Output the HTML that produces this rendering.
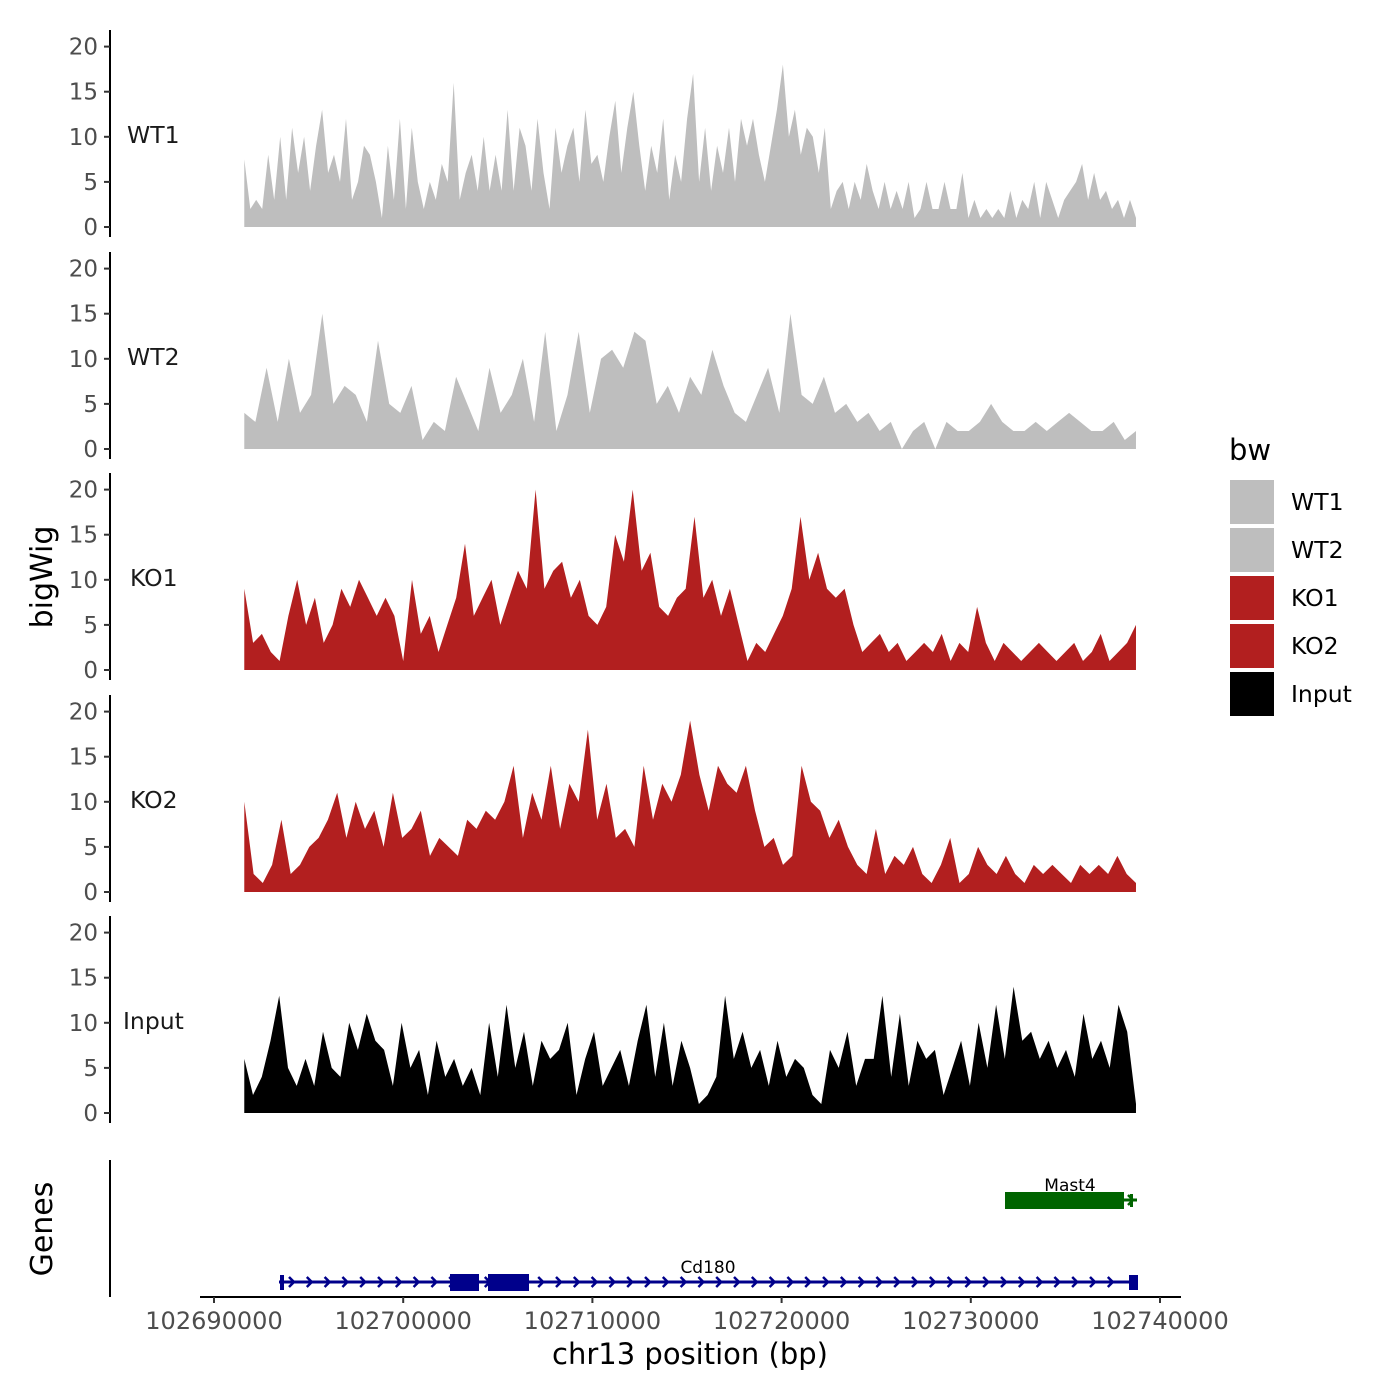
<!DOCTYPE html>
<html><head><meta charset="utf-8"><style>
body{margin:0;background:#fff}
svg{display:block;font-family:"DejaVu Sans","Liberation Sans",sans-serif}
</style></head><body>
<svg id="chart" width="1400" height="1400" viewBox="0 0 1400 1400"></svg>
<script>
const trackNames = ["WT1","WT2","KO1","KO2","Input"];
const trackColors = ["#bebebe","#bebebe","#b21f1f","#b21f1f","#000000"];
const yTicks = [0,5,10,15,20];
const xTicks = [102690000,102700000,102710000,102720000,102730000,102740000];
const xStart = 102691600, xEnd = 102738730;
const wt1 = [7.5,2,3,2,8,3,10,3,11,6,10,4,9,13,6,8,5,12,3,5,9,8,5,1,9,3,12,2,11,5,2,5,3,7,5,16,3,6,8,4,10,4,8,4,13,4,11,9,4,12,6,2,11,6,9,11,5,13,7,8,5,10,14,6,11,15,9,4,9,6,12,3,8,5,12,17,5,11,4,9,6,11,5,12,9,12,8,5,9,13,18,10,13,8,11,10,6,11,2,4,5,2,5,3,7,4,2,5,2,4,2,5,1,2,5,2,2,5,2,2,6,1,3,1,2,1,2,1,4,1,3,2,5,1,5,3,1,3,4,5,7,3,6,3,4,2,3,1,3,1];
const wt2 = [4,3,9,3,10,4,6,15,5,7,6,3,12,5,4,7,1,3,2,8,5,2,9,4,6,10,3,13,2,6,13,4,10,11,9,13,12,5,7,4,8,6,11,7,4,3,6,9,4,15,6,5,8,4,5,3,4,2,3,0,2,3,0,3,2,2,3,5,3,2,2,3,2,3,4,3,2,2,3,1,2];
const ko1 = [9,3,4,2,1,6,10,5,8,3,5,9,7,10,8,6,8,6,1,10,4,6,2,5,8,14,6,8,10,5,8,11,9,20,9,11,12,8,10,6,5,7,15,12,20,11,13,7,6,8,9,17,8,10,6,9,5,1,3,2,4,6,9,17,10,13,9,8,9,5,2,3,4,2,3,1,2,3,2,4,1,3,2,7,3,1,3,2,1,2,3,2,1,2,3,1,2,4,1,2,3,5];
const ko2 = [10,2,1,3,8,2,3,5,6,8,11,6,10,7,9,5,11,6,7,9,4,6,5,4,8,7,9,8,10,14,6,11,8,14,7,12,10,18,8,12,6,7,5,14,8,12,10,13,19,13,9,14,12,11,14,9,5,6,3,4,14,10,9,6,8,5,3,2,7,2,4,3,5,2,1,3,6,1,2,5,3,2,4,2,1,3,2,3,2,1,3,2,3,2,4,2,1];
const inputVals = [6,2,4,8,13,5,3,6,3,9,5,4,10,7,11,8,7,3,10,5,7,2,8,4,6,3,5,2,10,4,12,5,9,3,8,6,7,10,2,6,9,3,5,7,3,8,12,4,10,3,8,5,1,2,4,13,6,9,5,7,3,8,4,6,5,2,1,7,5,9,3,6,6,13,4,11,3,8,6,7,2,5,8,3,10,5,12,6,14,8,9,6,8,5,7,4,11,6,8,5,12,9,1];
const series = [wt1,wt2,ko1,ko2,inputVals];

const NS="http://www.w3.org/2000/svg";
const svg=document.getElementById('chart');
function el(tag,attrs,parent){const e=document.createElementNS(NS,tag);for(const k in attrs)e.setAttribute(k,attrs[k]);(parent||svg).appendChild(e);return e;}
const xScale=v=>214+(v-102690000)/50000*946;
const baselines=[227,449,670,892,1113];
const yPx=9.02;

series.forEach((vals,i)=>{
  const b=baselines[i];
  const g=el('g',{});
  
  
  const n=vals.length;
  let pts=[];
  pts.push(xScale(xStart)+','+b);
  vals.forEach((v,j)=>{const x=xScale(xStart+(xEnd-xStart)*j/(n-1));pts.push(x.toFixed(1)+','+(b-v*yPx).toFixed(1));});
  pts.push(xScale(xEnd)+','+b);
  const p=el('polygon',{points:pts.join(' '),fill:trackColors[i]},g);
  
  
  const ax=el('line',{x1:110,x2:110,y1:b-197,y2:b+10,stroke:'#000','stroke-width':2},g);
  
  
  yTicks.forEach(t=>{
    const y=b-t*yPx;
    el('line',{x1:104,x2:110,y1:y,y2:y,stroke:'#333','stroke-width':2},g);
    const tx=el('text',{x:98,y:y+8,'text-anchor':'end','font-size':23,fill:'#4d4d4d'},g);
    tx.textContent=t;
    
    
  });
  const lb=el('text',{x:i==4?123:(i>=2?130:127),y:b-84,'font-size':23.5,fill:'#1a1a1a'},g);
  lb.textContent=trackNames[i];
  
  
});

let t=el('text',{x:0,y:0,'font-size':30,'text-anchor':'middle',transform:'translate(52,577) rotate(-90)'});
t.textContent='bigWig';


t=el('text',{x:0,y:0,'font-size':30,'text-anchor':'middle',transform:'translate(52,1229) rotate(-90)'});
t.textContent='Genes';



el('line',{x1:110,x2:110,y1:1160,y2:1297,stroke:'#000','stroke-width':2});
el('line',{x1:200,x2:1181,y1:1297,y2:1297,stroke:'#000','stroke-width':2});
xTicks.forEach(v=>{
  const x=xScale(v);
  el('line',{x1:x,x2:x,y1:1297,y2:1303,stroke:'#333','stroke-width':2});
  const tx=el('text',{x:x,y:1329,'text-anchor':'middle','font-size':24,fill:'#4d4d4d'});
  tx.textContent=v;
  
  
});
t=el('text',{x:690,y:1364,'font-size':29,'text-anchor':'middle'});
t.textContent='chr13 position (bp)';



const cd=el('g',{});


el('line',{x1:279,x2:1134,y1:1282,y2:1282,stroke:'#00008b','stroke-width':3},cd);
for(let x=292;x<1125;x+=17.8){el('polyline',{points:`${x-3},${1277} ${x+2},${1282} ${x-3},${1287}`,fill:'none',stroke:'#00008b','stroke-width':2.5},cd);}
el('rect',{x:280,y:1275,width:4,height:15,fill:'#00008b'},cd);
el('rect',{x:450,y:1274,width:29,height:17,fill:'#00008b'},cd);
el('rect',{x:488,y:1274,width:41,height:17,fill:'#00008b'},cd);
el('rect',{x:1129,y:1275,width:9,height:15,fill:'#00008b'},cd);
t=el('text',{x:708,y:1273,'font-size':17,'text-anchor':'middle'},cd);
t.textContent='Cd180';
const m4=el('g',{});


el('line',{x1:1005,x2:1137,y1:1200,y2:1200,stroke:'#006400','stroke-width':3},m4);
el('rect',{x:1005,y:1192,width:119,height:17,fill:'#006400'},m4);
el('polyline',{points:'1128,1195 1133,1200 1128,1205',fill:'none',stroke:'#006400','stroke-width':2.5},m4);
el('rect',{x:1130,y:1194,width:3,height:13,fill:'#006400'},m4);
t=el('text',{x:1070,y:1191,'font-size':17,'text-anchor':'middle'},m4);
t.textContent='Mast4';

const lg=el('g',{});


t=el('text',{x:1229,y:460,'font-size':29},lg);
t.textContent='bw';
const legendColors=["#bebebe","#bebebe","#b21f1f","#b21f1f","#000000"];
trackNames.forEach((n,i)=>{
  const y=480+i*48;
  const r=el('rect',{x:1230,y:y,width:44,height:44,fill:legendColors[i]},lg);
  
  
  const tx=el('text',{x:1291,y:y+30,'font-size':23.5},lg);
  tx.textContent=n;
  
  
});
</script>
</body></html>
